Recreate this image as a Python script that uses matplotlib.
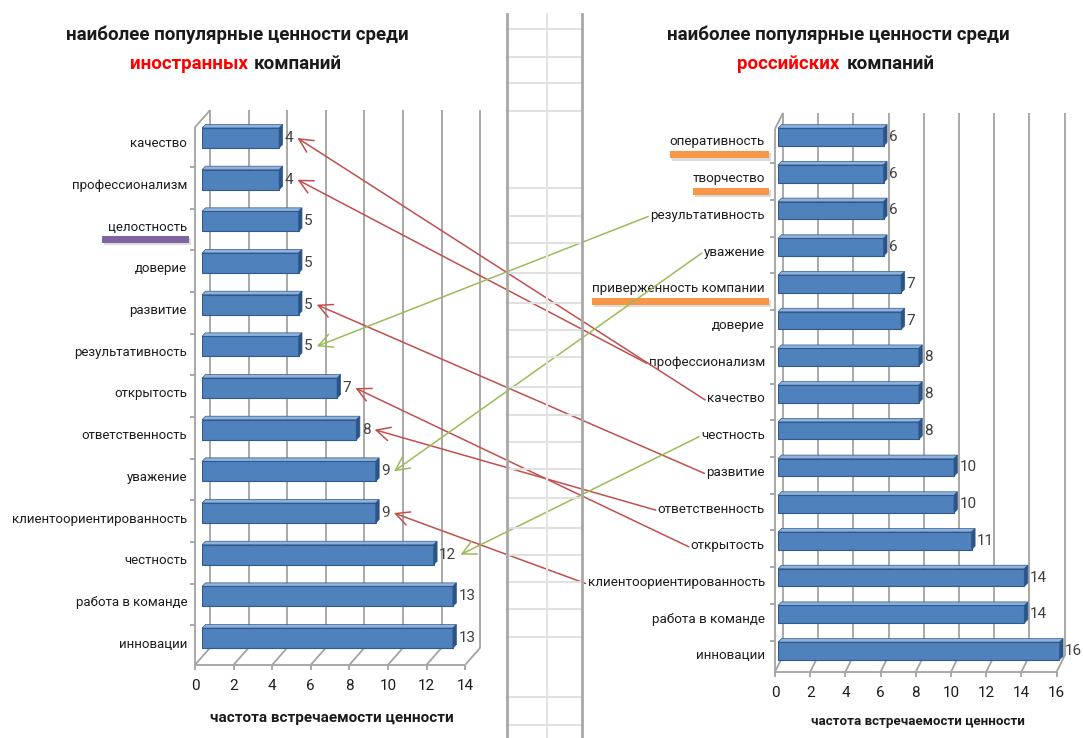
import numpy as np
import matplotlib
matplotlib.use("Agg")
import matplotlib.pyplot as plt
from matplotlib.patches import Polygon, Rectangle, FancyArrowPatch
from matplotlib.lines import Line2D

plt.rcParams['font.family'] = ['Roboto', 'DejaVu Sans']

# ценности иностранных компаний (сверху вниз)
foreign_labels = ['качество', 'профессионализм', 'целостность', 'доверие', 'развитие',
                  'результативность', 'открытость', 'ответственность', 'уважение',
                  'клиентоориентированность', 'честность', 'работа в команде', 'инновации']
foreign_counts = [4, 4, 5, 5, 5, 5, 7, 8, 9, 9, 12, 13, 13]

# ценности российских компаний (сверху вниз)
russian_labels = ['оперативность', 'творчество', 'результативность', 'уважение',
                  'приверженность компании', 'доверие', 'профессионализм', 'качество',
                  'честность', 'развитие', 'ответственность', 'открытость',
                  'клиентоориентированность', 'работа в команде', 'инновации']
russian_counts = [6, 6, 6, 6, 7, 7, 8, 8, 8, 10, 10, 11, 14, 14, 16]

# общие ценности, связанные стрелками
red_links = ['качество', 'профессионализм', 'развитие', 'ответственность',
             'открытость', 'клиентоориентированность']
green_links = ['результативность', 'уважение', 'честность']

# отмеченные подписи
purple_marks = ['целостность']
orange_marks = ['оперативность', 'творчество', 'приверженность компании']

axis_title = 'частота встречаемости ценности'

W, H = 1083, 738
fig = plt.figure(figsize=(W / 100, H / 100), dpi=100)

GRID = '#a3a3a3'
BLUE = '#4f81bd'
EDGE = '#2f5a8c'
LIGHT = '#8fb1dc'
DARK = '#2b5386'
TXT = '#1c1c1c'


def px_axes(x0, x1, y0, y1):
    return fig.add_axes([x0 / W, 1 - y1 / H, (x1 - x0) / W, (y1 - y0) / H])


def fig_line(xs, ys, color, lw):
    fig.add_artist(Line2D([x / W for x in xs], [1 - y / H for y in ys],
                          color=color, lw=lw, transform=fig.transFigure))


def bar_chart(labels, counts, vmax, x0, unit, y0, pitch, ylo, yhi,
              back, front, lab_off, fs):
    n = len(labels)
    ax = px_axes(x0, x0 + unit * vmax, y0 + pitch * ylo, y0 + pitch * yhi)
    ax.set_xlim(0, vmax)
    ax.set_ylim(yhi, ylo)
    ax.axis('off')
    bx, by = back[0] / unit, back[1] / pitch
    fx, fy = front[0] / unit, front[1] / pitch
    kw = dict(clip_on=False, solid_capstyle='butt')

    # back wall, floor and front axis
    for v in range(0, vmax + 1, 2):
        ax.plot([v + bx] * 2, [ylo + by, yhi + by], color=GRID, lw=1.3, zorder=1, **kw)
        ax.plot([v + bx, v + fx], [yhi + by, yhi + fy], color=GRID, lw=1.3, zorder=1, **kw)
        ax.plot([v + fx] * 2, [yhi + fy, yhi + fy + 5 / pitch], color=GRID, lw=1.3, **kw)
        ax.annotate(str(v), (v + fx, yhi + fy), xytext=(0, -15), textcoords='offset points',
                    ha='center', va='center', fontsize=11, color=TXT, annotation_clip=False)
    ax.plot([fx, vmax + fx], [yhi + fy] * 2, color=GRID, lw=1.3, **kw)
    ax.plot([fx, fx], [ylo + fy, yhi + fy], color=GRID, lw=1.3, **kw)
    ax.plot([fx, bx], [ylo + fy, ylo + by], color=GRID, lw=1.3, **kw)
    for b in np.arange(0.5, n - 1):
        ax.plot([fx - 5 / unit, fx], [b + fy] * 2, color=GRID, lw=1.3, **kw)

    # bars with a little depth
    ys = np.arange(n)
    bh = 0.48
    cx, cy = 3.5 / unit, 3.5 / pitch
    ax.barh(ys, counts, height=bh, color=BLUE, edgecolor=EDGE, lw=0.8, zorder=3)
    values = {}
    texts = {}
    for y, v, lab in zip(ys, counts, labels):
        top, bot = y - bh / 2, y + bh / 2
        ax.add_patch(Polygon([(0, top), (cx, top - cy), (v + cx, top - cy), (v, top)],
                             closed=True, fc=LIGHT, ec=EDGE, lw=0.5, zorder=2, clip_on=False))
        ax.add_patch(Polygon([(v, top), (v + cx, top - cy), (v + cx, bot - cy), (v, bot)],
                             closed=True, fc=DARK, ec=EDGE, lw=0.5, zorder=4, clip_on=False))
        values[lab] = ax.annotate(str(v), (v + cx, y), xytext=(1.5, 0), textcoords='offset points',
                                  ha='left', va='center', fontsize=11, color='#404040',
                                  annotation_clip=False)
        texts[lab] = ax.annotate(lab, (0, y), xytext=lab_off, textcoords='offset points',
                                 ha='right', va='center', fontsize=fs, color=TXT,
                                 annotation_clip=False)
    return ax, texts, values


ax_l, fo_text, fo_val = bar_chart(foreign_labels, foreign_counts, 14,
                                  202, 19.3, 138, 41.67, -0.45, 12.45,
                                  (8, -9), (-7, 8), (-10.8, -4.3), 9.5)
ax_r, ru_text, ru_val = bar_chart(russian_labels, russian_counts, 16,
                                  778, 17.6, 137, 36.71, -0.44, 14.35,
                                  (5, -8), (-3, 8), (-9.4, -3.6), 9.6)

# titles
fig.text(237 / W, 1 - 35 / H, 'наиболее популярные ценности среди', ha='center', va='center',
         fontsize=13.5, fontweight='bold', color='#1a1a1a')
fig.text(248 / W, 1 - 64 / H, 'иностранных', ha='right', va='center',
         fontsize=13.5, fontweight='bold', color='#ff0000')
fig.text(254 / W, 1 - 64 / H, 'компаний', ha='left', va='center',
         fontsize=13.5, fontweight='bold', color='#1a1a1a')
fig.text(838 / W, 1 - 35 / H, 'наиболее популярные ценности среди', ha='center', va='center',
         fontsize=13.5, fontweight='bold', color='#1a1a1a')
fig.text(839 / W, 1 - 64 / H, 'российских', ha='right', va='center',
         fontsize=13.5, fontweight='bold', color='#ff0000')
fig.text(847 / W, 1 - 64 / H, 'компаний', ha='left', va='center',
         fontsize=13.5, fontweight='bold', color='#1a1a1a')

fig.text(332 / W, 1 - 718 / H, axis_title, ha='center', va='center',
         fontsize=11, fontweight='bold', color='#1a1a1a')
fig.text(918 / W, 1 - 722 / H, axis_title, ha='center', va='center',
         fontsize=9.6, fontweight='bold', color='#1a1a1a')

# spreadsheet strip between the charts
for yy in [29, 57, 83, 111, 188, 216, 243, 273, 303, 330, 357, 387, 415, 442,
           469, 498, 528, 555, 582, 609, 637, 697, 725]:
    fig_line([507, 582], [yy, yy], '#e0e0e0', 1.5)
fig_line([547, 547], [14, 738], '#e3e3e3', 1.5)
fig_line([507, 507], [14, 738], '#a8a8a8', 2)
fig_line([582, 582], [14, 738], '#a8a8a8', 2)

fig.canvas.draw()
r = fig.canvas.get_renderer()
inv = fig.transFigure.inverted()


def mark(t, color, pl, pr, drop):
    bb = t.get_window_extent(r)
    yc = (bb.y0 + bb.y1) / 2 - drop
    x0, y0 = inv.transform((bb.x0 - pl, yc - 3.5))
    x1, y1 = inv.transform((bb.x1 + pr, yc + 3.5))
    sx0, sy0 = inv.transform((bb.x0 - pl + 2, yc - 6))
    fig.add_artist(Rectangle((sx0, sy0), x1 - x0, y1 - y0, transform=fig.transFigure,
                             fc='#9a9a9a', ec='none', alpha=0.35))
    fig.add_artist(Rectangle((x0, y0), x1 - x0, y1 - y0, transform=fig.transFigure,
                             fc=color, ec='none'))


for lab in purple_marks:
    mark(fo_text[lab], '#8064a2', 6, 2, 12)
for lab in orange_marks:
    mark(ru_text[lab], '#f79646', 0, 4, 12.5)

# arrows from the Russian list to the same value in the foreign list
for lab, color in [(l, '#c0504d') for l in red_links] + [(l, '#9bbb59') for l in green_links]:
    a = ru_text[lab].get_window_extent(r)
    b = fo_val[lab].get_window_extent(r)
    start = inv.transform((a.x0 - 2, (a.y0 + a.y1) / 2 - 1))
    tip = inv.transform((b.x1 + 4, (b.y0 + b.y1) / 2))
    fig.add_artist(FancyArrowPatch(start, tip, transform=fig.transFigure,
                                   arrowstyle='->,head_length=0.9,head_width=0.45',
                                   mutation_scale=11, color=color, lw=1.1,
                                   shrinkA=0, shrinkB=0))

fig.savefig('out.png', dpi=100, facecolor='white')
